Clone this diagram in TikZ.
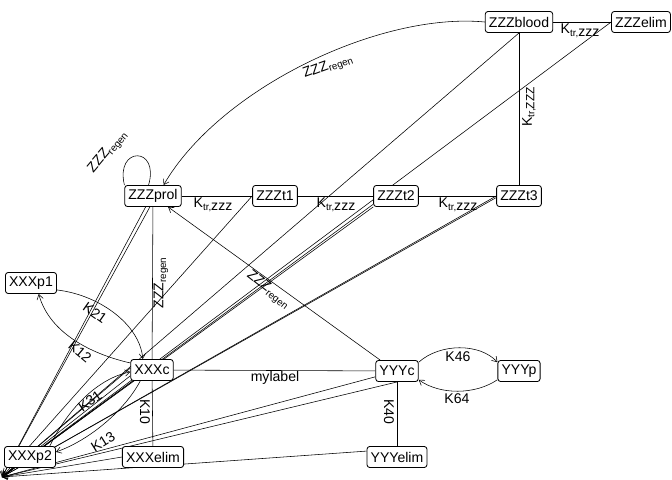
\documentclass[tikz,border=0pt]{standalone}
\usepackage{fontspec}
\setmainfont{Liberation Sans}
\usetikzlibrary{arrows.meta,backgrounds}
\newcommand{\ktrz}{K\raisebox{-1.8pt}{\fontsize{7}{8}\selectfont tr,}\raisebox{-1.8pt}{zzz}}
\newcommand{\ktrZ}{K\raisebox{-1.8pt}{\fontsize{7}{8}\selectfont tr,\fontsize{8.5}{9}\selectfont ZZZ}}
\newcommand{\zregen}{ZZZ\raisebox{-2pt}{\fontsize{7}{8}\selectfont regen}}
\begin{document}
\begin{tikzpicture}[x=0.025cm,y=-0.025cm,line width=0.5pt,
  box/.style={draw,rounded corners=2pt,fill=white,inner xsep=2.6pt,inner ysep=0pt,
    minimum height=15pt,line width=0.6pt,font=\fontsize{10}{12}\selectfont},
  lbl/.style={inner sep=0pt,font=\fontsize{10}{12}\selectfont},
  arr/.style={-{Straight Barb[length=3.5pt,width=4.5pt]}}]
\useasboundingbox (0,0) rectangle (672,480);
% compartments
\node[box] (zblood) at (519,22) {ZZZblood};
\node[box] (zelim) at (641,22) {ZZZelim};
\node[box] (zprol) at (153,196) {ZZZprol};
\node[box] (zt1) at (275,196) {ZZZt1};
\node[box] (zt2) at (396,196) {ZZZt2};
\node[box] (zt3) at (519,196) {ZZZt3};
\node[box] (xp1) at (31,283) {XXXp1};
\node[box] (xc) at (152,370) {XXXc};
\node[box] (yc) at (397,371) {YYYc};
\node[box] (yp) at (519,371) {YYYp};
\node[box] (xp2) at (30,457) {XXXp2};
\node[box] (xelim) at (153,457) {XXXelim};
\node[box] (yelim) at (397,457) {YYYelim};
\coordinate (sink) at (2,477);

\begin{scope}[on background layer]
% transit chain
\draw (zprol) -- (zt1);
\draw (zt1) -- (zt2);
\draw (zt2) -- (zt3);
\draw (zt3) -- (zblood);
\draw (zblood) -- (zelim);
\draw (zprol) -- (xc);
\draw (xc) -- (xelim);
\draw (xc) -- (yc);
\draw (yc) -- (yelim);
% regeneration
\draw[arr] (zblood.west) .. controls (380,12) and (220,88) .. (zprol.46);
\draw (zprol.159) .. controls (115,146) and (160,146) .. (zprol.112);
\draw[arr] (yc.147) -- (zprol.-36);
% exchange
\draw[arr] (xp1.-15) .. controls (100,295) and (140,325) .. (xc.130);
\draw[arr] (xc.162) .. controls (95,355) and (50,335) .. (xp1.-55);
\draw[arr] (xp2.29) .. controls (70,405) and (100,378) .. (xc.-175);
\draw[arr] (xc.-137) .. controls (125,410) and (90,440) .. (xp2.11);
\draw[arr] (yc.22) .. controls (440,343) and (480,343) .. (yp.158);
\draw[arr] (yp.-158) .. controls (475,395) and (440,395) .. (yc.-22);
% lines into the corner
\foreach \a in {zprol.-124,zprol.-106,zt1.west,zt2.-160,zt2.south west,
    zt3.west,zt3.-176,zblood.south,zelim.west,yc.-165,yc.south,
    yelim.169,xelim.west,xc.175,xc.-165,xc.-150,xp2.south west}
  \draw[arr] (\a) -- (sink);
\end{scope}

% labels
\node[lbl] (lt1) at (213,205) {\ktrz};
\node[lbl] (lt2) at (336,205) {\ktrz};
\node[lbl] (lt3) at (458,205) {\ktrz};
\node[lbl] (lt4) at (580,31) {\ktrz};
\node[lbl,rotate=90] (ltv) at (529,107) {\ktrZ};
\node[lbl,rotate=50] (lrl) at (108,152) {\zregen};
\node[lbl,rotate=20] (lra) at (328,67) {\zregen};
\node[lbl,rotate=90] (lrv) at (161,283) {\zregen};
\node[lbl,rotate=-38] (lrd) at (268,290) {\zregen};
\node[lbl,rotate=-35] (lk21) at (95,313) {K21};
\node[lbl,rotate=-40] (lk12) at (80,352) {K12};
\node[lbl,rotate=35] (lk31) at (90,401) {K31};
\node[lbl,rotate=32] (lk13) at (103,442) {K13};
\node[lbl,rotate=-90] (lk10) at (145,412) {K10};
\node[lbl,rotate=-90] (lk40) at (389,412) {K40};
\node[lbl] (lmy) at (275,378) {mylabel};
\node[lbl] (lk46) at (458,357) {K46};
\node[lbl] (lk64) at (457,399) {K64};
\end{tikzpicture}
\end{document}
